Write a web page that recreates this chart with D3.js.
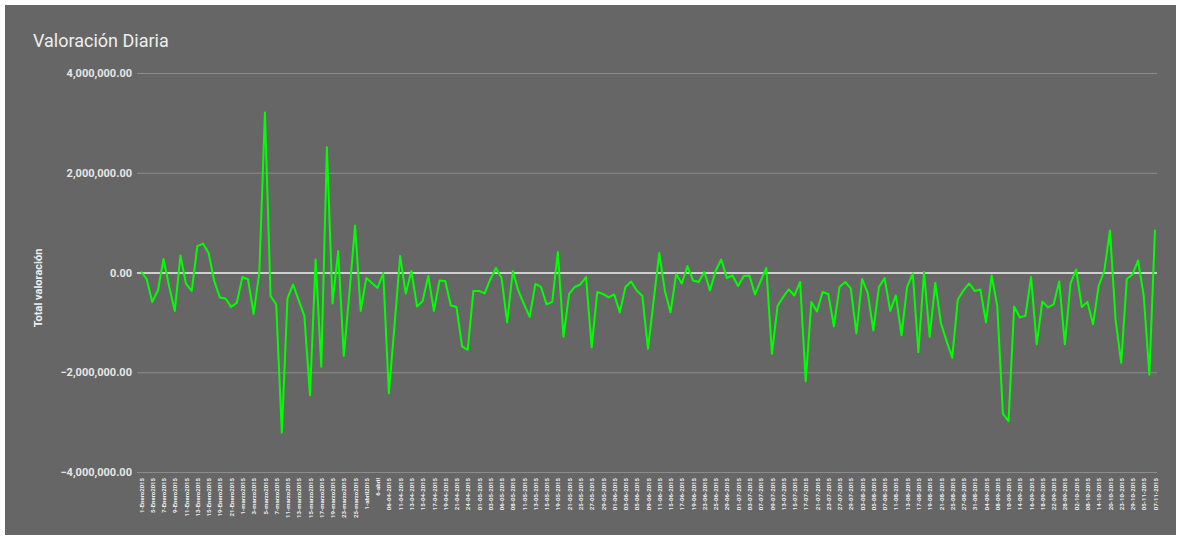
<!DOCTYPE html>
<html><head><meta charset="utf-8">
<script src="https://cdn.jsdelivr.net/npm/d3@7"></script>
<style>body{margin:0;background:#fff}svg{display:block}</style></head>
<body><svg id="c" width="1181" height="540"></svg>
<script>
const chartTitle = "Valoración Diaria";
const yTitle = "Total valoración";
const yTicks = [4000000, 2000000, 0, -2000000, -4000000];
const values = [
 20000,-130000,-590000,-360000,270000,-280000,-770000,340000,-230000,-370000,
 530000,580000,390000,-170000,-500000,-520000,-690000,-610000,-90000,-140000,
 -830000,0,3210000,-470000,-640000,-3210000,-520000,-240000,-560000,-870000,
 -2460000,260000,-1890000,2510000,-620000,430000,-1670000,-400000,940000,-770000,
 -110000,-210000,-310000,-10000,-2420000,-1070000,330000,-420000,30000,-680000,
 -570000,-70000,-770000,-160000,-170000,-660000,-690000,-1480000,-1550000,-370000,
 -370000,-420000,-140000,90000,-110000,-1000000,30000,-370000,-640000,-890000,
 -230000,-290000,-640000,-590000,410000,-1290000,-430000,-290000,-240000,-90000,
 -1500000,-390000,-430000,-500000,-440000,-800000,-290000,-180000,-360000,-470000,
 -1530000,-570000,390000,-370000,-800000,-30000,-220000,130000,-160000,-190000,
 10000,-360000,30000,260000,-110000,-60000,-270000,-70000,-60000,-440000,
 -170000,90000,-1630000,-670000,-490000,-340000,-460000,-190000,-2180000,-590000,
 -780000,-390000,-430000,-1080000,-290000,-190000,-320000,-1220000,-130000,-410000,
 -1160000,-290000,-110000,-770000,-460000,-1260000,-290000,-20000,-1600000,10000,
 -1290000,-210000,-1020000,-1370000,-1710000,-540000,-360000,-220000,-370000,-340000,
 -1000000,-60000,-670000,-2830000,-2980000,-680000,-900000,-870000,-90000,-1440000,
 -580000,-700000,-640000,-180000,-1440000,-220000,60000,-690000,-590000,-1040000,
 -270000,30000,840000,-940000,-1810000,-130000,-40000,240000,-470000,-2050000,
 860000
];
const tickLabels = [
 "1-Enero2015","5-Enero2015","7-Enero2015","9-Enero2015","11-Enero2015","13-Enero2015","15-Enero2015","19-Enero2015","21-Enero2015","1-marzo2015",
 "3-marzo2015","5-marzo2015","7-marzo2015","11-marzo2015","13-marzo2015","15-marzo2015","17-marzo2015","19-marzo2015","23-marzo2015","25-marzo2015",
 "1-abril2015","6-abril","06-04-2015","11-04-2015","13-04-2015","15-04-2015","17-04-2015","19-04-2015","21-04-2015","24-04-2015",
 "01-05-2015","03-05-2015","06-05-2015","08-05-2015","11-05-2015","13-05-2015","15-05-2015","19-05-2015","21-05-2015","25-05-2015",
 "27-05-2015","29-05-2015","01-06-2015","03-06-2015","05-06-2015","09-06-2015","11-06-2015","15-06-2015","17-06-2015","19-06-2015",
 "23-06-2015","25-06-2015","29-06-2015","01-07-2015","03-07-2015","07-07-2015","09-07-2015","13-07-2015","15-07-2015","17-07-2015",
 "21-07-2015","23-07-2015","27-07-2015","29-07-2015","03-08-2015","05-08-2015","07-08-2015","11-08-2015","13-08-2015","17-08-2015",
 "19-08-2015","21-08-2015","25-08-2015","27-08-2015","31-08-2015","04-09-2015","08-09-2015","10-09-2015","14-09-2015","16-09-2015",
 "18-09-2015","22-09-2015","28-09-2015","02-10-2015","08-10-2015","14-10-2015","20-10-2015","23-10-2015","29-10-2015","05-11-2015",
 "07-11-2015"
];

const svg = d3.select("#c");
const font = "Roboto, 'Noto Sans', sans-serif";
svg.append("rect").attr("x",5).attr("y",5).attr("width",1171).attr("height",530).attr("fill","#666666");

const plotL = 137, plotR = 1157;
const x = d3.scaleLinear().domain([0, values.length-1]).range([141, 1155]);
const y = d3.scaleLinear().domain([-4000000, 4000000]).range([472, 73]);

svg.append("text").attr("x",33).attr("y",47).attr("fill","#eeeeee")
  .style("font-family",font).style("font-size","18px").text(chartTitle);

const yAxis = svg.append("g").attr("transform",`translate(${plotL},0)`)
  .call(d3.axisLeft(y).tickValues(yTicks).tickSize(-(plotR-plotL)).tickPadding(5).tickFormat(d3.format(",.2f")));
yAxis.select(".domain").remove();
yAxis.selectAll(".tick line").attr("stroke", d => d===0 ? "#cfcfcf" : "#8c8c8c").attr("stroke-width", d => d===0 ? 2 : 1.2);
yAxis.selectAll(".tick text").attr("fill","#e6e6e6").style("font-family",font).style("font-size","11px").style("font-weight","bold");

svg.append("text").attr("transform","translate(42,288) rotate(-90)").attr("text-anchor","middle")
  .attr("fill","#eeeeee").style("font-family",font).style("font-size","11px").style("font-weight","bold").text(yTitle);

const tickIdx = tickLabels.map((d,i)=>i*2);
const xAxis = svg.append("g").attr("transform","translate(0,472)")
  .call(d3.axisBottom(x).tickValues(tickIdx).tickSize(0).tickFormat(i => tickLabels[i/2]));
xAxis.select(".domain").remove();
xAxis.selectAll(".tick text").attr("transform","rotate(-90)").attr("text-anchor","end")
  .attr("x",-6).attr("y",0).attr("dy","0.35em")
  .attr("fill","#f0f0f0").style("font-family",font).style("font-size","6px").style("font-weight","bold");

svg.append("path").datum(values)
  .attr("d", d3.line().x((d,i)=>x(i)).y(d=>y(d)))
  .attr("fill","none").attr("stroke","#00ff00").attr("stroke-width",2).attr("stroke-linejoin","round");
</script></body></html>
